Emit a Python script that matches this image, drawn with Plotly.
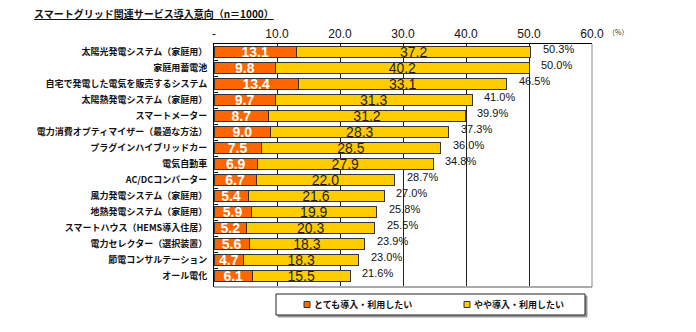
import plotly.graph_objects as go

categories = [
    "太陽光発電システム（家庭用）",
    "家庭用蓄電池",
    "自宅で発電した電気を販売するシステム",
    "太陽熱発電システム（家庭用）",
    "スマートメーター",
    "電力消費オプティマイザー（最適な方法）",
    "プラグインハイブリッドカー",
    "電気自動車",
    "AC/DCコンバーター",
    "風力発電システム（家庭用）",
    "地熱発電システム（家庭用）",
    "スマートハウス（HEMS導入住居）",
    "電力セレクター（選択装置）",
    "節電コンサルテーション",
    "オール電化",
]
very_much = [13.1, 9.8, 13.4, 9.7, 8.7, 9.0, 7.5, 6.9, 6.7, 5.4, 5.9, 5.2, 5.6, 4.7, 6.1]
somewhat = [37.2, 40.2, 33.1, 31.3, 31.2, 28.3, 28.5, 27.9, 22.0, 21.6, 19.9, 20.3, 18.3, 18.3, 15.5]
totals = [50.3, 50.0, 46.5, 41.0, 39.9, 37.3, 36.0, 34.8, 28.7, 27.0, 25.8, 25.5, 23.9, 23.0, 21.6]
tick_vals = [0, 10, 20, 30, 40, 50, 60]
tick_text = ["-", "10.0", "20.0", "30.0", "40.0", "50.0", "60.0"]
series_names = ["とても導入・利用したい", "やや導入・利用したい"]
series_colors = ["#FF6600", "#FFCC00"]

NUM_FONT = "Liberation Sans Narrow, Arial Narrow, Liberation Sans, Arial"
JP_FONT = "Noto Sans CJK JP"

# plot area geometry (pixels) used for placing the legend in paper coords
PL, PR, PT, PB = 214, 592, 44, 287
PW, PH = PR - PL, PB - PT


def px(xp):
    return (xp - PL) / PW


def py(yp):
    return (PB - yp) / PH


fig = go.Figure()
fig.add_trace(go.Bar(
    y=categories, x=very_much, orientation="h", name=series_names[0],
    marker=dict(color=series_colors[0], line=dict(color="#333333", width=1)),
    text=[f"{v:.1f}" for v in very_much], textposition="inside",
    insidetextanchor="middle", textangle=0,
    textfont=dict(family=NUM_FONT, size=14, color="white", weight="bold"),
))
fig.add_trace(go.Bar(
    y=categories, x=somewhat, orientation="h", name=series_names[1],
    marker=dict(color=series_colors[1], line=dict(color="#333333", width=1)),
    text=[f"{v:.1f}" for v in somewhat], textposition="inside",
    insidetextanchor="middle", textangle=0,
    textfont=dict(family=NUM_FONT, size=14, color="#222222"),
))

for c, t in zip(categories, totals):
    fig.add_annotation(x=t, y=c, xref="x", yref="y", text=f"{t:.1f}%",
                       showarrow=False, xanchor="left", xshift=10, yshift=3,
                       font=dict(family="Liberation Sans, Arial", size=11, color="#111111"))

fig.add_annotation(x=0, y=1, xref="paper", yref="paper", xanchor="left", yanchor="middle",
                   xshift=-182, yshift=31,
                   text="<b><u>スマートグリッド関連サービス導入意向（n＝1000）</u></b>",
                   showarrow=False, font=dict(family=JP_FONT, size=10, color="#111111"))
fig.add_annotation(x=60, y=1, xref="x", yref="paper", xanchor="left", yanchor="middle",
                   xshift=14, yshift=12, text="（%）", showarrow=False,
                   font=dict(family=JP_FONT, size=7, color="#333333"))

# legend box (with slight shadow)
fig.add_shape(type="rect", xref="paper", yref="paper", x0=px(278), x1=px(587), y0=py(317), y1=py(296),
              line=dict(color="#999999", width=1), fillcolor="#999999", layer="above")
fig.add_shape(type="rect", xref="paper", yref="paper", x0=px(276), x1=px(585), y0=py(315), y1=py(294),
              line=dict(color="#222222", width=1), fillcolor="white", layer="above")
legend_icon_x = [307, 467]
legend_y = 304.5
for name, col, ix in zip(series_names, series_colors, legend_icon_x):
    fig.add_shape(type="rect", xref="paper", yref="paper",
                  x0=px(ix - 3), x1=px(ix + 3), y0=py(legend_y + 3), y1=py(legend_y - 3),
                  line=dict(color="#333333", width=1), fillcolor=col, layer="above")
    fig.add_annotation(x=px(ix + 5), y=py(legend_y), xref="paper", yref="paper",
                       xanchor="left", yanchor="middle", text=name, showarrow=False,
                       font=dict(family=JP_FONT, size=9, color="#111111", weight="bold"))

# bottom / right plot border
fig.add_shape(type="line", xref="paper", yref="paper", x0=0, x1=1, y0=0, y1=0,
              line=dict(color="#AAAAAA", width=2))
fig.add_shape(type="line", xref="paper", yref="paper", x0=1, x1=1, y0=0, y1=1,
              line=dict(color="#888888", width=1))

fig.update_layout(
    width=696, height=332,
    margin=dict(l=PL, r=696 - PR, t=PT, b=332 - PB),
    paper_bgcolor="white", plot_bgcolor="white",
    barmode="stack", bargap=0.28,
    uniformtext=dict(mode="show", minsize=13),
    showlegend=False,
    xaxis=dict(range=[0, 60], side="top", tickvals=tick_vals, ticktext=tick_text,
               showgrid=True, gridcolor="#222222", gridwidth=1,
               showline=True, linecolor="#000000", linewidth=1,
               ticks="", zeroline=False,
               tickfont=dict(family="Liberation Sans, Arial", size=12, color="#111111")),
    yaxis=dict(autorange="reversed", showline=True, linecolor="#000000", linewidth=1,
               ticks="inside", tickson="boundaries", ticklen=4, tickcolor="#000000",
               ticklabelstandoff=4,
               tickfont=dict(family=JP_FONT, size=9, color="#111111", weight="bold")),
)

fig.write_html("out.html")
